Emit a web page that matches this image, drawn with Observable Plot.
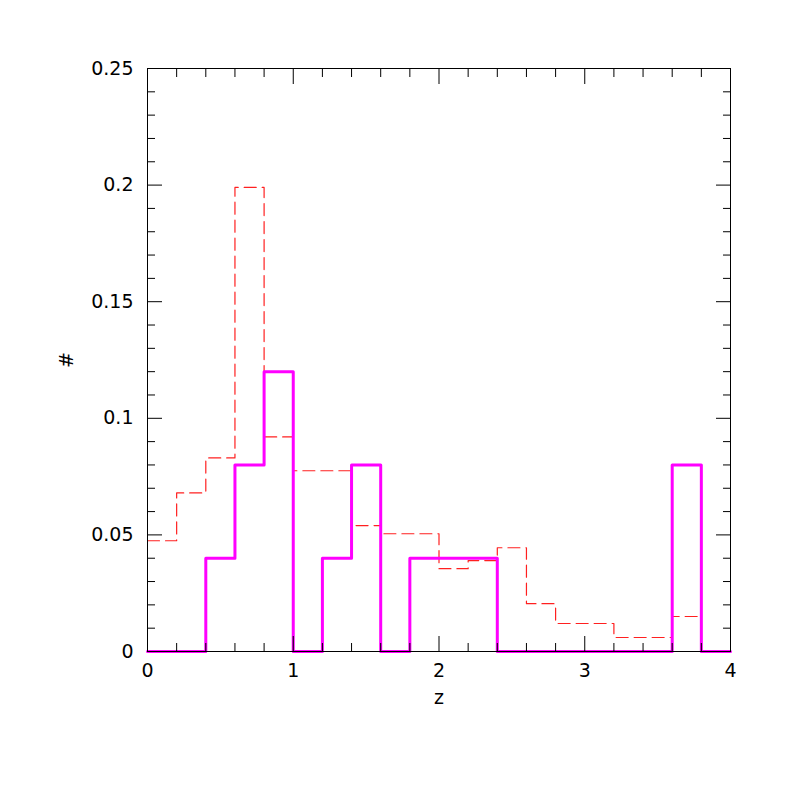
<!DOCTYPE html>
<html>
<head>
<meta charset="utf-8">
<script src="https://cdn.jsdelivr.net/npm/d3@7"></script>
<script src="https://cdn.jsdelivr.net/npm/@observablehq/plot@0.6"></script>
<style>
  html, body { margin: 0; padding: 0; background: #fff; }
  svg { display: block; }
</style>
</head>
<body>
<div id="chart"></div>
<script>
// Bin edges (z)
const binEdges = [0, 0.2, 0.4, 0.6, 0.8, 1.0, 1.2, 1.4, 1.6, 1.8, 2.0, 2.2, 2.4, 2.6, 2.8, 3.0, 3.2, 3.4, 3.6, 3.8, 4.0];
// Red dashed histogram (one value per bin)
const redValues = [0.0475, 0.068, 0.083, 0.199, 0.092, 0.0775, 0.0775, 0.054, 0.0505, 0.0505, 0.0355, 0.039, 0.0445, 0.0205, 0.012, 0.012, 0.006, 0.006, 0.015, 0];
// Magenta solid histogram
const magentaValues = [0, 0, 0.04, 0.08, 0.12, 0, 0.04, 0.08, 0, 0.04, 0.04, 0.04, 0, 0, 0, 0, 0, 0, 0.08, 0];
// Tick values
const xMajor = [0, 1, 2, 3, 4];
const xMinor = [0.2, 0.4, 0.6, 0.8, 1.2, 1.4, 1.6, 1.8, 2.2, 2.4, 2.6, 2.8, 3.2, 3.4, 3.6, 3.8];
const yMajor = [0, 0.05, 0.1, 0.15, 0.2, 0.25];
const yMinor = [0.01, 0.02, 0.03, 0.04, 0.06, 0.07, 0.08, 0.09, 0.11, 0.12, 0.13, 0.14, 0.16, 0.17, 0.18, 0.19, 0.21, 0.22, 0.23, 0.24];
const yLabels = ["0", "0.05", "0.1", "0.15", "0.2", "0.25"];

function steps(values) {
  const pts = values.map((v, i) => ({x: binEdges[i], y: v}));
  pts.push({x: binEdges[binEdges.length - 1], y: values[values.length - 1]});
  return pts;
}

const font = "'DejaVu Sans', sans-serif";
const blank = () => "";

const chart = Plot.plot({
  width: 797,
  height: 797,
  marginLeft: 147,
  marginRight: 67,
  marginTop: 68,
  marginBottom: 146,
  style: {fontFamily: font, fontSize: "19px", color: "#000", background: "#fff"},
  x: {domain: [0, 4]},
  y: {domain: [0, 0.25]},
  marks: [
    Plot.line(steps(redValues), {x: "x", y: "y", curve: "step-after", stroke: "#ff2020", strokeWidth: 1.2, strokeDasharray: "12,6"}),
    Plot.line(steps(magentaValues), {x: "x", y: "y", curve: "step-after", stroke: "#ff00ff", strokeWidth: 3}),
    Plot.frame({stroke: "#000", strokeWidth: 1}),
    // inward ticks
    Plot.axisX({anchor: "bottom", ticks: xMajor, tickSize: -15, tickFormat: blank, label: null}),
    Plot.axisX({anchor: "bottom", ticks: xMinor, tickSize: -8, tickFormat: blank, label: null}),
    Plot.axisX({anchor: "top", ticks: xMajor, tickSize: -15, tickFormat: blank, label: null}),
    Plot.axisX({anchor: "top", ticks: xMinor, tickSize: -8, tickFormat: blank, label: null}),
    Plot.axisY({anchor: "left", ticks: yMajor, tickSize: -15, tickFormat: blank, label: null}),
    Plot.axisY({anchor: "left", ticks: yMinor, tickSize: -8, tickFormat: blank, label: null}),
    Plot.axisY({anchor: "right", ticks: yMajor, tickSize: -15, tickFormat: blank, label: null}),
    Plot.axisY({anchor: "right", ticks: yMinor, tickSize: -8, tickFormat: blank, label: null}),
    // labels
    Plot.axisX({anchor: "bottom", ticks: xMajor, tickSize: 0, tickPadding: 12, tickFormat: d => String(d), label: "z", labelAnchor: "center", labelArrow: "none", labelOffset: 52, fontSize: 19}),
    Plot.axisY({anchor: "left", ticks: yMajor, tickSize: 0, tickPadding: 14, tickFormat: (d, i) => yLabels[i], label: "#", labelAnchor: "center", labelArrow: "none", labelOffset: 88, fontSize: 19})
  ]
});
document.getElementById("chart").appendChild(chart);
</script>
</body>
</html>
